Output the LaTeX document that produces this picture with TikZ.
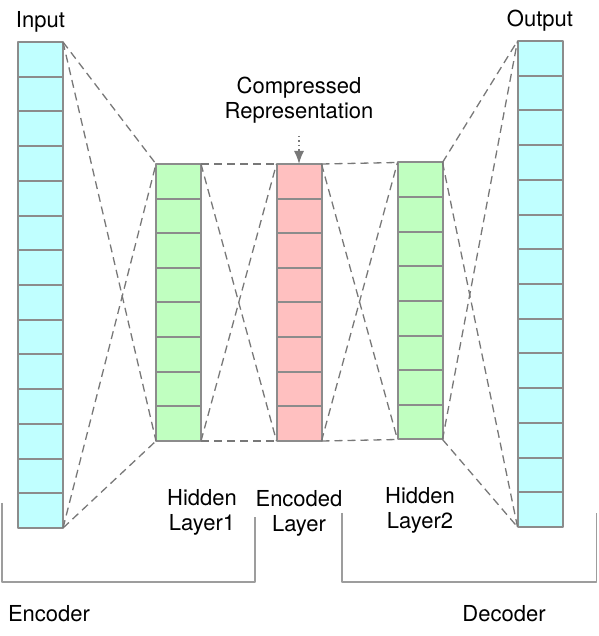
\documentclass[tikz,border=0pt]{standalone}
\usepackage{fontspec}
\setmainfont{TeX Gyre Heros}
\usetikzlibrary{calc}
\usetikzlibrary{positioning}
\usetikzlibrary{arrows.meta}
\definecolor{cellCyan}{RGB}{192,255,255}
\definecolor{cellGreen}{RGB}{192,255,192}
\definecolor{cellRed}{RGB}{255,192,192}
\definecolor{edgeGray}{RGB}{140,140,140}
\definecolor{lineGray}{RGB}{120,120,120}

\begin{document}
\begin{tikzpicture}[
    x=1pt, y=1pt,
    line join=round,
    font=\fontsize{22}{25}\selectfont,
    column/.style={
        draw=edgeGray,
        line width=2pt,
        minimum width=45pt,
        inner sep=0pt,
        outer sep=0pt
    },
    longcol/.style={
        column,
        fill=cellCyan,
        minimum height=486pt
    },
    shortcol/.style={
        column,
        minimum height=277pt
    },
    dashline/.style={
        draw=lineGray,
        line width=1.3pt,
        dash pattern=on 8pt off 5pt
    },
    bracket/.style={
        draw=edgeGray!85,
        line width=1.5pt
    },
    caption/.style={
        align=center,
        inner sep=0pt
    }
]
    \useasboundingbox (0,0) rectangle (598,636);

    % Columns
    \node[longcol] (in) at (40.5,351) {};
    \node[shortcol, fill=cellGreen] (hid1) at (178.5,333.5) {};
    \node[shortcol, fill=cellRed] (enc) at (299,333.5) {};
    \node[shortcol, fill=cellGreen] (hid2) at (420,335) {};
    \node[longcol] (out) at (540,352) {};

    % Cell separators
    \foreach \col in {in,out} {
        \foreach \i in {1,...,13} {
            \draw[edgeGray, line width=2pt]
            ($ (\col.north west)!\i/14!(\col.south west) $)
            --
            ($ (\col.north east)!\i/14!(\col.south east) $);
        }
    }

    \foreach \col in {hid1,enc,hid2} {
        \foreach \i in {1,...,7} {
            \draw[edgeGray, line width=2pt]
            ($ (\col.north west)!\i/8!(\col.south west) $)
            --
            ($ (\col.north east)!\i/8!(\col.south east) $);
        }
    }

    % Dashed links between neighbouring columns
    \foreach \a/\b in {in/hid1,hid1/enc,enc/hid2,hid2/out} {
        \draw[dashline] (\a.north east) -- (\b.north west);
        \draw[dashline] (\a.north east) -- (\b.south west);
        \draw[dashline] (\a.south east) -- (\b.north west);
        \draw[dashline] (\a.south east) -- (\b.south west);
    }

    % Labels
    \node[caption, above=9pt of in] (inlabel) {Input};
    \node[caption, above=9pt of out] (outlabel) {Output};
    \node[caption, above=40pt of enc] (comp) {Compressed\\Representation};
    \draw[lineGray, line width=1.5pt, dash pattern=on 1.5pt off 3pt,
        -{Latex[length=13pt,width=10pt]}, shorten <=12pt] (comp) -- (enc);

    \node[caption, below=48pt of hid1, xshift=23.5pt] (hid1label) {Hidden\\Layer1};
    \node[caption, below=49pt of enc] (enclabel) {Encoded\\Layer};
    \node[caption, below=48pt of hid2] (hid2label) {Hidden\\Layer2};

    % Encoder / decoder brackets
    \draw[bracket] (2,133) |- (255,54) -- (255,119);
    \draw[bracket] (342,123) |- (596.5,54) -- (596.5,123);

    \node[anchor=base] (encoder) at (49,14) {Encoder};
    \node[anchor=base] (decoder) at (504,14) {Decoder};

\end{tikzpicture}
\end{document}
